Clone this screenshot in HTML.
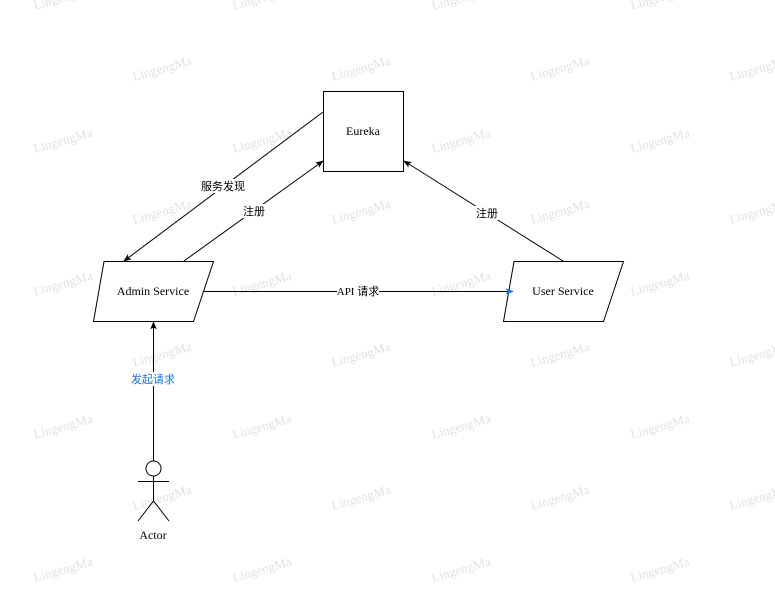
<!DOCTYPE html>
<html><head><meta charset="utf-8"><style>
html,body{margin:0;padding:0;background:#fff;width:775px;height:596px;overflow:hidden}
</style></head><body>
<svg width="775" height="596" xmlns="http://www.w3.org/2000/svg" font-family="Liberation Serif, serif">
<defs>
<marker id="a" viewBox="0 0 10 10" refX="9" refY="5" markerWidth="8" markerHeight="8" orient="auto-start-reverse" markerUnits="userSpaceOnUse"><path d="M0,1 L10,5 L0,9 L2,5 z" fill="#000"/></marker>
<marker id="b" viewBox="0 0 10 10" refX="9" refY="5" markerWidth="8" markerHeight="8" orient="auto" markerUnits="userSpaceOnUse"><path d="M0,1 L10,5 L0,9 L2,5 z" fill="#1a73e8"/></marker>
</defs>
<g fill="#e2e2e2" font-size="13">
<g id="r1">
<text transform="translate(35,10) rotate(-16)">LingengMa</text>
<text transform="translate(234,10) rotate(-16)">LingengMa</text>
<text transform="translate(433,10) rotate(-16)">LingengMa</text>
<text transform="translate(632,10) rotate(-16)">LingengMa</text>
</g>
<g id="r2">
<text transform="translate(134,81) rotate(-16)">LingengMa</text>
<text transform="translate(333,81) rotate(-16)">LingengMa</text>
<text transform="translate(532,81) rotate(-16)">LingengMa</text>
<text transform="translate(731,81) rotate(-16)">LingengMa</text>
</g>
<use href="#r1" y="143"/><use href="#r2" y="143"/>
<use href="#r1" y="286"/><use href="#r2" y="286"/>
<use href="#r1" y="429"/><use href="#r2" y="429"/>
<use href="#r1" y="572"/>
</g>
<g stroke="#000" fill="none" stroke-width="1">
<rect x="323.5" y="91.5" width="80" height="80" fill="#fff"/>
<polygon points="104,261.5 213.5,261.5 193.5,321.5 93.5,321.5" fill="#fff"/>
<polygon points="514,261.5 623.5,261.5 603.5,321.5 503.5,321.5" fill="#fff"/>
<line x1="323" y1="112" x2="124" y2="261" marker-end="url(#a)"/>
<line x1="184" y1="261" x2="323" y2="161" marker-end="url(#a)"/>
<line x1="563" y1="261" x2="404" y2="161" marker-end="url(#a)"/>
<line x1="203" y1="291.5" x2="513" y2="291.5" marker-end="url(#b)"/>
<line x1="153.5" y1="461" x2="153.5" y2="322" marker-end="url(#a)"/>
<circle cx="153.5" cy="468.5" r="7.5"/>
<line x1="153.5" y1="476" x2="153.5" y2="501"/>
<line x1="138" y1="481.5" x2="169" y2="481.5"/>
<path d="M138,521 L153.5,501 L169,521"/>
</g>
<g font-size="12" text-anchor="middle" fill="#000">
<text x="363" y="135">Eureka</text>
<text x="153" y="295">Admin Service</text>
<text x="563" y="295">User Service</text>
<text x="153" y="539">Actor</text>
</g>
<g font-size="11" text-anchor="middle" font-family="Liberation Sans, Noto Sans CJK SC, sans-serif">
<rect x="201" y="179" width="44" height="14" fill="#fff"/>
<text x="223" y="190">服务发现</text>
<rect x="242" y="204" width="23" height="14" fill="#fff"/>
<text x="254" y="215">注册</text>
<rect x="475" y="206" width="23" height="14" fill="#fff"/>
<text x="487" y="217">注册</text>
<rect x="337" y="285" width="42" height="14" fill="#fff"/>
<text x="358" y="295" font-family="Liberation Serif, Noto Sans CJK SC, serif">API 请求</text>
<rect x="130" y="372" width="46" height="14" fill="#fff"/>
<text x="153" y="383" fill="#1a73e8">发起请求</text>
</g>
</svg>
</body></html>
